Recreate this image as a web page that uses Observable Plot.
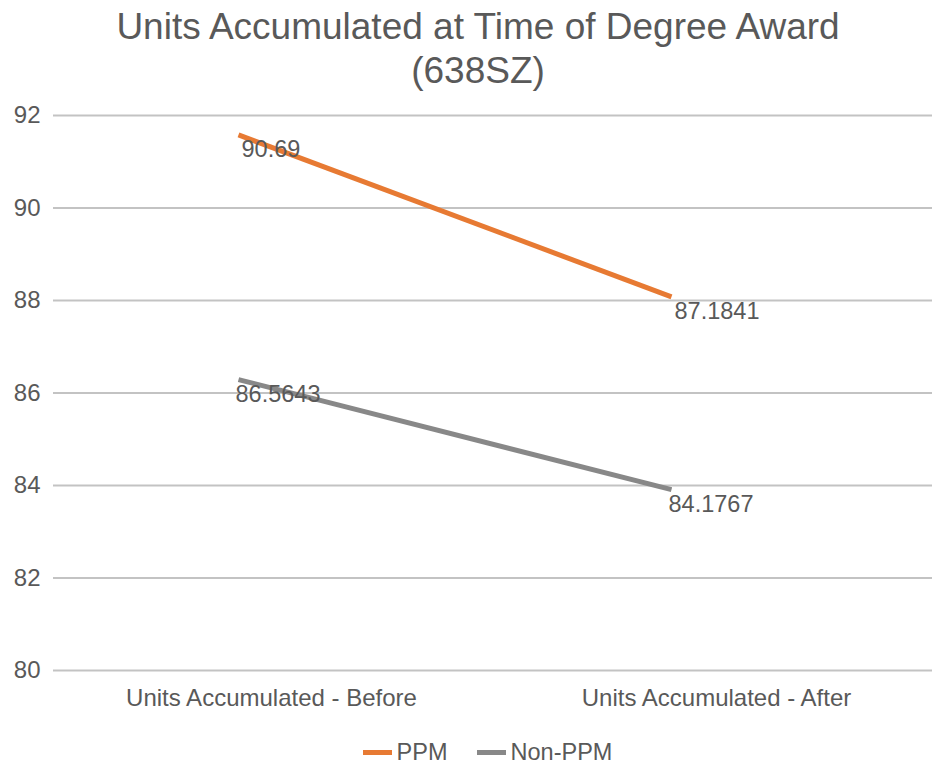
<!DOCTYPE html>
<html>
<head>
<meta charset="utf-8">
<script src="https://cdn.jsdelivr.net/npm/d3@7"></script>
<script src="https://cdn.jsdelivr.net/npm/@observablehq/plot@0.6"></script>
<style>
  html, body { margin: 0; padding: 0; background: #fff; overflow: hidden; }
  body { width: 932px; height: 764px; font-family: "Liberation Sans", Arial, sans-serif; color: #595959; }
  #title { height: 100px; text-align: center; font-size: 37px; line-height: 44px; padding-top: 5px; padding-left: 24px; box-sizing: border-box; color: #595959; }
  #legend { display: flex; justify-content: center; align-items: center; gap: 29px; font-size: 23.5px; line-height: 28px; color: #595959; margin-top: 23px; padding-left: 43px; }
  .item { display: flex; align-items: center; gap: 5px; }
  .sw { width: 29px; height: 5px; display: inline-block; }
  svg { display: block; }
</style>
</head>
<body>
<div id="title">Units Accumulated at Time of Degree Award<br>(638SZ)</div>
<div id="chart"></div>
<div id="legend"></div>
<script>
const categories = ["Units Accumulated - Before", "Units Accumulated - After"];
const seriesNames = ["PPM", "Non-PPM"];
const ppmValues = [91.58, 88.08];
const nonPpmValues = [86.29, 83.91];
const ppmLabels = ["90.69", "87.1841"];
const nonPpmLabels = ["86.5643", "84.1767"];
const yTicks = [80, 82, 84, 86, 88, 90, 92];
const colors = ["#E77A33", "#888888"];

const data = [];
categories.forEach((c, i) => {
  data.push({series: seriesNames[0], cat: c, value: ppmValues[i], label: ppmLabels[i]});
  data.push({series: seriesNames[1], cat: c, value: nonPpmValues[i], label: nonPpmLabels[i]});
});

const chart = Plot.plot({
  width: 932,
  height: 615,
  marginTop: 15,
  marginBottom: 45,
  marginLeft: 53,
  marginRight: 0,
  style: {fontFamily: "'Liberation Sans', Arial, sans-serif", color: "#595959", background: "#fff"},
  x: {type: "point", domain: categories, range: [238, 671], padding: 0, label: null},
  y: {domain: [80, 92], ticks: yTicks, label: null},
  color: {domain: seriesNames, range: colors},
  marks: [
    Plot.ruleY(yTicks, {stroke: "#c3c3c3", strokeWidth: 2.2}),
    Plot.axisY({ticks: yTicks, tickSize: 0, tickPadding: 13, fontSize: 24, label: null, fill: "#595959"}),
    Plot.axisX({ticks: [categories[0]], tickSize: 0, tickPadding: 18, fontSize: 24, dx: 33, label: null, fill: "#595959"}),
    Plot.axisX({ticks: [categories[1]], tickSize: 0, tickPadding: 18, fontSize: 24, dx: 45, label: null, fill: "#595959"}),
    Plot.line(data, {x: "cat", y: "value", z: "series", stroke: "series", strokeWidth: 5, strokeLinecap: "butt"}),
    Plot.text(data.filter(d => d.series === seriesNames[0]), {x: "cat", y: "value", text: "label", textAnchor: "start", dx: 3, dy: 15, fontSize: 23.5, fill: "#595959"}),
    Plot.text(data.filter(d => d.series === seriesNames[1]), {x: "cat", y: "value", text: "label", textAnchor: "start", dx: -3, dy: 15, fontSize: 23.5, fill: "#595959"})
  ]
});
document.getElementById("chart").appendChild(chart);

const legend = document.getElementById("legend");
seriesNames.forEach((s, i) => {
  const it = document.createElement("div");
  it.className = "item";
  const sw = document.createElement("span");
  sw.className = "sw";
  sw.style.background = colors[i];
  const t = document.createElement("span");
  t.textContent = s;
  it.appendChild(sw); it.appendChild(t);
  legend.appendChild(it);
});
</script>
</body>
</html>
